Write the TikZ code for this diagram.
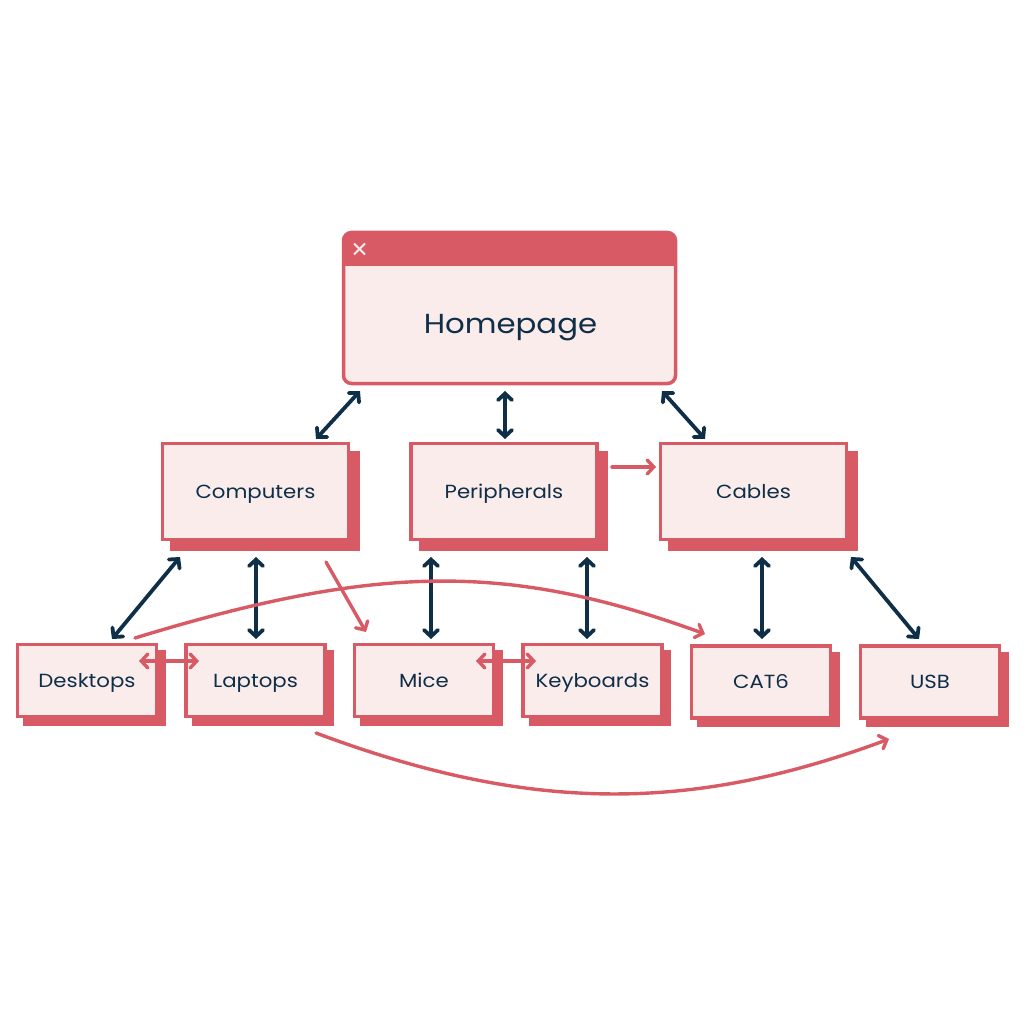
\documentclass[tikz,border=0pt]{standalone}
\usepackage{fontspec}
\setmainfont[FakeStretch=1.12]{Poppins}
\usetikzlibrary{arrows.meta,shadows,calc}
\definecolor{rosered}{HTML}{D85A65}
\definecolor{paleface}{HTML}{FAECEB}
\definecolor{navy}{HTML}{0F2E47}
\tikzset{
  x=1pt,y=-1pt,
  barb/.tip={Straight Barb[length=6.5pt,width=14pt,line cap=round]},
  basebox/.style={draw=rosered,fill=paleface,line width=3.5pt,outer sep=0pt,inner sep=0pt,text=navy,font=\fontsize{19}{19}\selectfont,text height=13.5pt,text depth=0pt,align=center},
  bigbox/.style={basebox,minimum width=186pt,minimum height=96pt,general shadow={fill=rosered,draw=rosered,line width=3.5pt,shadow xshift=9.5pt,shadow yshift=-9.5pt}},
  smallbox/.style={basebox,minimum width=139pt,minimum height=72pt,general shadow={fill=rosered,draw=rosered,line width=3.5pt,shadow xshift=7.5pt,shadow yshift=-7.5pt}},
  dbl/.style={draw=navy,line width=3.8pt,barb-barb},
  redone/.style={draw=rosered,line width=3.4pt,line cap=round,-barb},
  reddbl/.style={draw=rosered,line width=3.4pt,barb-barb},
}
\begin{document}
\begin{tikzpicture}
\useasboundingbox (0,0) rectangle (1024,1024);
% Homepage window
\node[basebox,rounded corners=8pt,minimum width=332pt,minimum height=151pt] (home) at (509.5,308) {};
\fill[rosered,rounded corners=7pt] (home.north west) rectangle ($(home.north east)+(0,26)$);
\fill[rosered] ($(home.north west)+(0,15)$) rectangle ($(home.north east)+(0,33.5)$);
\draw[paleface,line width=2pt] ($(home.north west)+(10.5,11)$) -- ($(home.north west)+(21.5,22)$);
\draw[paleface,line width=2pt] ($(home.north west)+(21.5,11)$) -- ($(home.north west)+(10.5,22)$);
\node[text=navy,font=\fontsize{27.5}{28}\selectfont,text height=20pt,text depth=0pt,inner sep=0pt] (homelabel) at (510.5,323) {Homepage};
% Second row
\node[bigbox] (comp) at (255.5,491.5) {Computers};
\node[bigbox] (peri) at (504,491.5) {Peripherals};
\node[bigbox] (cabl) at (753.5,491.5) {Cables};
% Third row
\node[smallbox] (desk) at (87,680.5) {Desktops};
\node[smallbox] (lapt) at (255.5,680.5) {Laptops};
\node[smallbox] (mice) at (424,680.5) {Mice};
\node[smallbox] (keyb) at (592.5,680.5) {Keyboards};
\node[smallbox] (cat) at (761,682) {CAT6};
\node[smallbox] (usb) at (930,682) {USB};
% Navy connectors
\draw[dbl] ($(home.south west)+(16.5,7.5)$) -- ($(comp.north west)+(153.5,-4.5)$);
\draw[dbl] ($(home.south)+(-4.5,7.5)$) -- ($(peri.north)+(1,-4.5)$);
\draw[dbl] ($(home.south east)+(-13.5,7.5)$) -- ($(cabl.north west)+(44.5,-4.5)$);
\draw[dbl] ($(comp.south west)+(17.5,17.5)$) -- ($(desk.north west)+(94.5,-5.5)$);
\draw[dbl] ($(comp.south)+(.5,17.5)$) -- ($(lapt.north)+(.5,-5.5)$);
\draw[dbl] ($(peri.south west)+(20,17.5)$) -- ($(mice.north west)+(76.5,-5.5)$);
\draw[dbl] ($(peri.south)+(83,17.5)$) -- ($(keyb.north)+(-5.5,-5.5)$);
\draw[dbl] ($(cabl.south)+(8.5,17.5)$) -- ($(cat.north)+(1,-7)$);
\draw[dbl] ($(cabl.south east)+(4.5,17.5)$) -- ($(usb.north)+(-11,-7)$);
% Red connectors
\draw[redone] ($(peri.north east)+(15,23.5)$) -- ($(cabl.north west)+(-4.5,23.5)$);
\draw[redone] ($(comp.south east)+(-22.5,22.5)$) -- ($(mice.north west)+(11.5,-12.5)$);
\draw[reddbl] ($(desk.north east)+(-17.5,16.5)$) -- ($(lapt.north west)+(13,16.5)$);
\draw[reddbl] ($(mice.north east)+(-17.5,16.5)$) -- ($(keyb.north west)+(13,16.5)$);
\draw[redone] ($(desk.north east)+(-21.5,-6.5)$) .. controls (380,563) and (510,563) .. ($(cat.north west)+(13.5,-12)$);
\draw[redone] ($(lapt.south east)+(-9,16.5)$) .. controls (530,813) and (690,813) .. ($(usb.south)+(-41,21)$);
\end{tikzpicture}
\end{document}
